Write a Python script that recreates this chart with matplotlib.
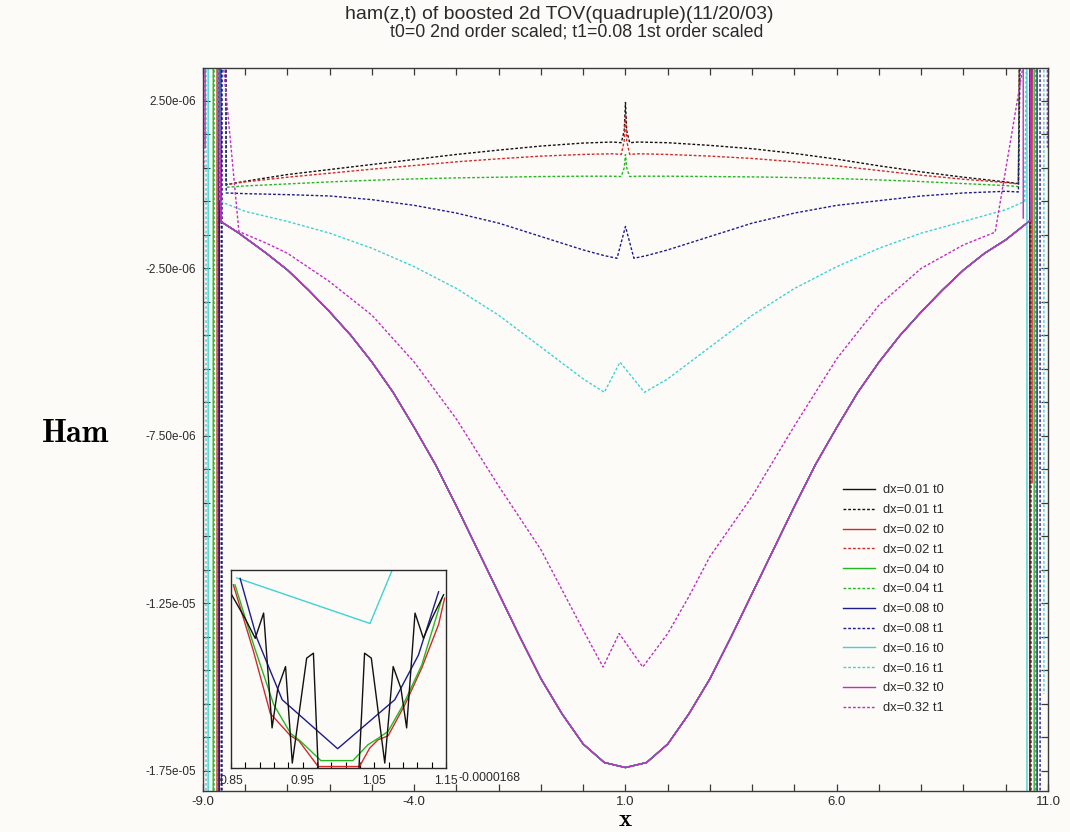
#! /usr/bin/env python3
import numpy as np
import matplotlib
matplotlib.use('Agg')
from matplotlib import pyplot as plt, ticker
from matplotlib.lines import Line2D

# all values in units of 1e-6 unless noted
labels = ['dx=0.01 t0', 'dx=0.01 t1', 'dx=0.02 t0', 'dx=0.02 t1', 'dx=0.04 t0', 'dx=0.04 t1',
          'dx=0.08 t0', 'dx=0.08 t1', 'dx=0.16 t0', 'dx=0.16 t1', 'dx=0.32 t0', 'dx=0.32 t1']
colours = ['#111111', '#111111', '#d02a2a', '#d02a2a', '#22b822', '#22b822',
           '#1c1c8c', '#1c1c8c', '#3fd2d2', '#3fd2d2', '#c22cc2', '#c22cc2']

# t0 runs all sit on the same deep well
x_t0 = [-8.58, -8.15, -7.5, -7.0, -6.5, -6.0, -5.5, -5.0, -4.5, -4.0, -3.5, -3.0, -2.5, -2.0,
        -1.5, -1.0, -0.5, 0.0, 0.5, 1.0, 1.5, 2.0, 2.5, 3.0, 3.5, 4.0, 4.5, 5.0, 5.5, 6.0,
        6.5, 7.0, 7.5, 8.0, 8.5, 9.0, 9.5, 10.0, 10.35, 10.6]
ham_t0 = [-1.1, -1.45, -2.05, -2.55, -3.15, -3.8, -4.5, -5.3, -6.2, -7.25, -8.35, -9.6, -10.9, -12.2,
          -13.5, -14.75, -15.8, -16.7, -17.25, -17.4, -17.25, -16.7, -15.8, -14.75, -13.5, -12.2, -10.9, -9.6,
          -8.35, -7.25, -6.2, -5.3, -4.5, -3.8, -3.15, -2.55, -2.05, -1.65, -1.3, -1.05]

# t1 runs
x_t1_fine = [-8.45, -8.0, -7.0, -6.0, -5.0, -4.0, -3.0, -2.0, -1.0, 0.0, 0.7, 0.9, 0.97, 1.0, 1.03,
             1.1, 1.3, 2.0, 3.0, 4.0, 5.0, 6.0, 7.0, 8.0, 9.0, 10.0, 10.3]
ham_001_t1 = [0.0, 0.1, 0.3, 0.45, 0.6, 0.75, 0.9, 1.03, 1.15, 1.24, 1.27, 1.25, 1.6, 2.45, 1.6,
              1.25, 1.27, 1.25, 1.17, 1.07, 0.93, 0.76, 0.56, 0.38, 0.22, 0.08, 0.03]
ham_002_t1 = [0.0, 0.08, 0.22, 0.34, 0.46, 0.57, 0.68, 0.77, 0.85, 0.9, 0.92, 0.9, 1.3, 2.1, 1.3,
              0.9, 0.92, 0.9, 0.85, 0.78, 0.68, 0.56, 0.42, 0.28, 0.16, 0.06, 0.02]
ham_004_t1 = [-0.08, -0.04, 0.02, 0.08, 0.13, 0.17, 0.2, 0.22, 0.24, 0.25, 0.25, 0.24, 0.5, 0.9, 0.5,
              0.24, 0.25, 0.25, 0.24, 0.23, 0.21, 0.18, 0.14, 0.09, 0.03, -0.03, -0.06]

x_008_t1 = [-8.45, -8.0, -7.0, -6.0, -5.0, -4.0, -3.0, -2.0, -1.0, 0.0, 0.5, 0.8, 1.0, 1.2,
            1.5, 2.0, 3.0, 4.0, 5.0, 6.0, 7.0, 8.0, 9.0, 10.0, 10.3]
ham_008_t1 = [-0.25, -0.27, -0.3, -0.34, -0.45, -0.62, -0.85, -1.15, -1.55, -1.95, -2.12, -2.2, -1.25, -2.2,
              -2.12, -1.95, -1.55, -1.15, -0.85, -0.62, -0.48, -0.34, -0.25, -0.2, -0.22]

x_016_t1 = [-8.6, -8.0, -7.0, -6.0, -5.0, -4.0, -3.0, -2.0, -1.0, 0.0, 0.5, 0.87, 1.45, 2.0,
            3.0, 4.0, 5.0, 6.0, 7.0, 8.0, 9.0, 10.0, 10.45]
ham_016_t1 = [-0.5, -0.8, -1.1, -1.45, -1.9, -2.45, -3.1, -3.9, -4.85, -5.8, -6.2, -5.3, -6.2, -5.8,
              -4.85, -3.9, -3.1, -2.45, -1.9, -1.45, -1.1, -0.75, -0.5]

x_032_t1 = [-8.52, -8.15, -7.5, -7.0, -6.0, -5.0, -4.0, -3.0, -2.0, -1.0, -0.5, 0.0, 0.47, 0.85,
            1.41, 2.0, 2.5, 3.0, 4.0, 5.0, 6.0, 7.0, 8.0, 9.0, 9.75, 10.42]
ham_032_t1 = [3.6, -1.4, -1.75, -2.05, -2.9, -3.9, -5.3, -7.0, -9.0, -10.9, -12.1, -13.3, -14.4, -13.4,
              -14.4, -13.4, -12.3, -11.1, -9.3, -7.2, -5.2, -3.6, -2.5, -1.8, -1.42, 3.6]

# boundary blow-up: position of the vertical line and where it stops (-50 / 50 = off scale)
edge_left_x = [-8.62, -8.57, -8.67, -8.64, -8.76, -8.74, -8.62, -8.55, -8.88, -8.93, -8.95, -8.98]
edge_left_low = [-50, -50, -50, -50, -50, -50, -50, -50, -50, -50, 1.1, 0.5]
edge_right_x = [10.57, 10.58, 10.62, 10.6, 10.67, 10.71, 10.74, 10.81, 10.5, 10.9, 10.41, 10.98]
edge_right_low = [-50, -50, -8.9, -50, -50, -50, -50, -50, -50, -15.2, -1.0, 1.1]

series_x = [x_t0, x_t1_fine, x_t0, x_t1_fine, x_t0, x_t1_fine, x_t0, x_008_t1, x_t0, x_016_t1, x_t0, x_032_t1]
series_y = [ham_t0, ham_001_t1, ham_t0, ham_002_t1, ham_t0, ham_004_t1, ham_t0, ham_008_t1,
            ham_t0, ham_016_t1, ham_t0, ham_032_t1]

# inset close-up around x=1 (t0 runs), values in 1e-6
ins_x_black = [0.8509, 0.8697, 0.8838, 0.8955, 0.9073, 0.9153, 0.9261, 0.9355, 0.9556, 0.9650, 0.9730,
               1.0270, 1.0364, 1.0458, 1.0646, 1.0763, 1.0871, 1.0951, 1.1068, 1.1185, 1.1303, 1.1467]
ins_y_black = [-16.45, -16.498, -16.538, -16.487, -16.719, -16.639, -16.595, -16.79, -16.578, -16.568, -16.847,
               -16.847, -16.568, -16.578, -16.79, -16.595, -16.639, -16.719, -16.487, -16.538, -16.498, -16.45]
ins_x_red = [0.8533, 0.8815, 0.9049, 0.9331, 0.9448, 0.9716, 1.0293, 1.0434, 1.0552, 1.0692, 1.0927,
             1.1162, 1.1397, 1.1481]
ins_y_red = [-16.43, -16.565, -16.69, -16.735, -16.745, -16.797, -16.797, -16.76, -16.743, -16.735, -16.672,
             -16.598, -16.51, -16.457]
ins_x_green = [0.8556, 0.8815, 0.9096, 0.9331, 0.9472, 0.9754, 1.0200, 1.0411, 1.0552, 1.0692, 1.0904,
               1.1162, 1.1444]
ins_y_green = [-16.43, -16.551, -16.672, -16.73, -16.746, -16.785, -16.785, -16.753, -16.74, -16.726, -16.672,
               -16.592, -16.457]
ins_x_blue = [0.8627, 0.8862, 0.9214, 0.9988, 1.0786, 1.1115, 1.1397]
ins_y_blue = [-16.417, -16.538, -16.662, -16.761, -16.662, -16.572, -16.444]
ins_x_cyan = [0.858, 1.044, 1.075]
ins_y_cyan = [-16.416, -16.508, -16.40]

BG = '#fdfbf8'
TXT = '#2a2a2a'
plt.rcParams['font.family'] = ['Liberation Sans', 'DejaVu Sans']


def build_series(i):
    """Attach the boundary blow-up to a series (returns arrays in real units)."""
    xs = [edge_left_x[i], edge_left_x[i] + 0.005] + series_x[i] + [edge_right_x[i], edge_right_x[i] + 0.005]
    ys = [edge_left_low[i], 50] + series_y[i] + [50, edge_right_low[i]]
    return np.array(xs), np.array(ys) * 1e-6


def style_axes(ax):
    ax.set_facecolor(BG)
    for sp in ax.spines.values():
        sp.set_color('#3a3a3a')
        sp.set_linewidth(1.0)
    ax.set_xlim(-9.0, 11.0)
    ax.set_ylim(-1.81e-5, 3.48e-6)
    ax.xaxis.set_major_locator(ticker.FixedLocator([-9.0, -4.0, 1.0, 6.0, 11.0]))
    ax.xaxis.set_minor_locator(ticker.MultipleLocator(1.0))
    ax.xaxis.set_major_formatter(ticker.FormatStrFormatter('%.1f'))
    ax.yaxis.set_major_locator(ticker.FixedLocator([2.5e-6, -2.5e-6, -7.5e-6, -1.25e-5, -1.75e-5]))
    ax.yaxis.set_minor_locator(ticker.FixedLocator(np.arange(3.5e-6, -1.8e-5, -1e-6)))
    ax.yaxis.set_major_formatter(ticker.FormatStrFormatter('%.2e'))
    ax.tick_params(which='both', direction='in', top=True, right=True, length=5, width=0.9,
                   color='#3a3a3a', labelcolor=TXT)
    ax.tick_params(axis='y', pad=5, labelsize=8.5)
    ax.tick_params(axis='x', pad=3.5, labelsize=9.5)


def main():
    fig = plt.figure(figsize=(10.7, 8.32), dpi=100, facecolor=BG)
    ax = fig.add_axes([0.1897, 1 - 791 / 832, 0.7897, (791 - 68) / 832])
    style_axes(ax)

    handles = []
    for i, lab in enumerate(labels):
        xs, ys = build_series(i)
        ls = '-' if lab.endswith('t0') else (0, (2.0, 1.4))
        ax.plot(xs, ys, color=colours[i], lw=1.0, linestyle=ls)
        handles.append(Line2D([], [], color=colours[i], lw=1.0, linestyle=ls, label=lab))

    leg = ax.legend(handles=handles, loc='upper left', bbox_to_anchor=(0.757, 0.424), frameon=False,
                    fontsize=9.3, handlelength=2.5, handletextpad=0.62, labelspacing=0.6,
                    borderaxespad=0, borderpad=0)
    for t in leg.get_texts():
        t.set_color(TXT)

    fig.text(0.523, 0.983, 'ham(z,t) of boosted 2d TOV(quadruple)(11/20/03)', ha='center', va='center',
             fontsize=14, color=TXT)
    fig.text(0.539, 0.962, 't0=0 2nd order scaled; t1=0.08 1st order scaled', ha='center', va='center',
             fontsize=12.8, color=TXT)
    fig.text(76 / 1070, 1 - 433 / 832, 'Ham', ha='center', va='center', fontsize=23, family='cmb10')
    fig.text(625 / 1070, 1.5 / 832, 'x', ha='center', va='bottom', fontsize=18, family='cmb10')

    # inset zoom near the centre
    axi = fig.add_axes([0.2159, 0.0769, 0.2009, 0.238])
    axi.set_facecolor(BG)
    for sp in axi.spines.values():
        sp.set_color('#2a2a2a')
        sp.set_linewidth(1.0)
    inset = [(ins_x_cyan, ins_y_cyan, '#3fd2d2'), (ins_x_red, ins_y_red, '#d02a2a'),
             (ins_x_green, ins_y_green, '#22b822'), (ins_x_blue, ins_y_blue, '#1c1c8c'),
             (ins_x_black, ins_y_black, '#111111')]
    for xs, ys, c in inset:
        axi.plot(xs, np.array(ys) * 1e-6, color=c, lw=1.0)
    axi.set_xlim(0.85, 1.15)
    axi.set_ylim(-1.68e-5, -1.64e-5)
    axi.xaxis.set_major_locator(ticker.FixedLocator([0.85, 0.95, 1.05, 1.15]))
    axi.xaxis.set_minor_locator(ticker.FixedLocator(np.arange(0.85, 1.16, 0.02)))
    axi.xaxis.set_major_formatter(ticker.FormatStrFormatter('%.2f'))
    axi.set_yticks([])
    axi.tick_params(which='both', direction='in', length=4, width=0.8, labelsize=8.8,
                    labelcolor=TXT, pad=5)
    axi.text(1.06, -0.05, '-0.0000168', transform=axi.transAxes, ha='left', va='center',
             fontsize=8.8, color=TXT)

    fig.savefig('out.png', dpi=100, facecolor=BG)


if __name__ == '__main__':
    main()
